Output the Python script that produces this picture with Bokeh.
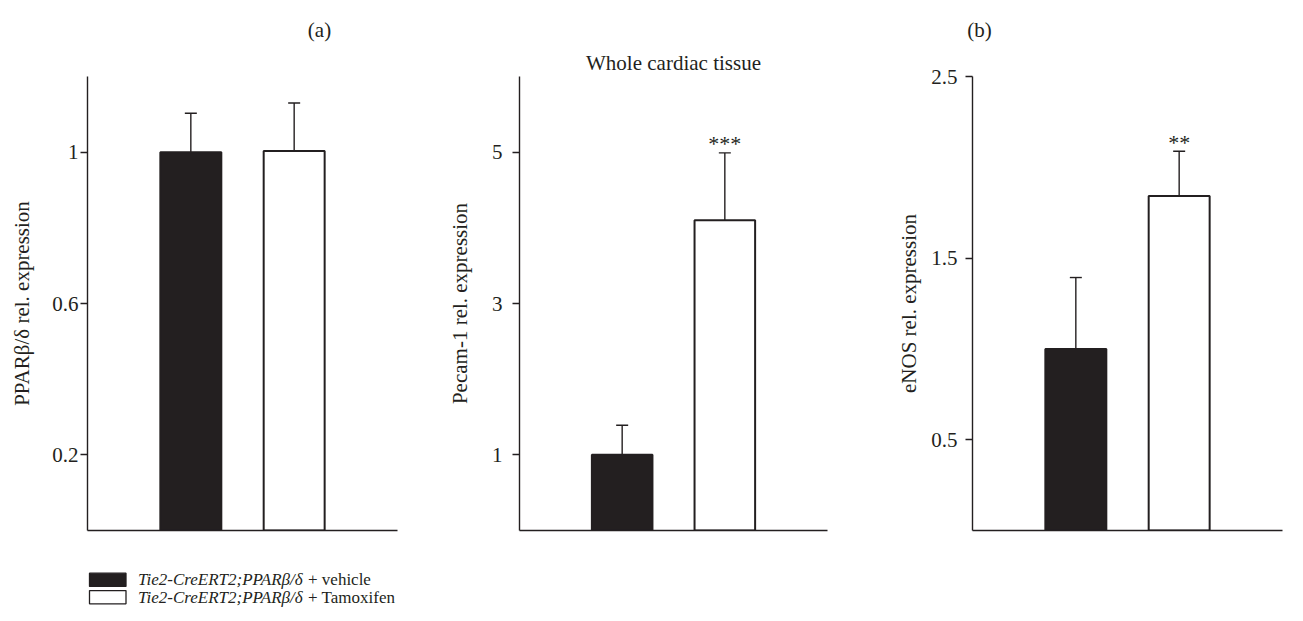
from bokeh.plotting import figure
from bokeh.layouts import column, row
from bokeh.models import ColumnDataSource, Range1d, FixedTicker, Whisker, TeeHead
from bokeh.core.properties import value
from bokeh.embed import file_html
from bokeh.resources import INLINE

# ---------------- data ----------------
groups = ["vehicle", "Tamoxifen"]
group_x = [1, 2]
bar_colors = ["#231f20", "#ffffff"]

ppar_mean = [1.0, 1.003]
ppar_err = [0.103, 0.127]

pecam_mean = [1.0, 4.10]
pecam_err = [0.39, 0.89]

enos_mean = [1.0, 1.842]
enos_err = [0.393, 0.246]

ppar_ticks = [0.2, 0.6, 1]
ppar_tick_labels = ["0.2", "0.6", "1"]
pecam_ticks = [1, 3, 5]
pecam_tick_labels = ["1", "3", "5"]
enos_ticks = [0.5, 1.5, 2.5]
enos_tick_labels = ["0.5", "1.5", "2.5"]

signif = ["", "***", "**"]  # per panel, on second bar

panel_letters = ["(a)", "(b)"]
panel2_title = "Whole cardiac tissue"

legend_italic = ["Tie2-CreERT2;PPARβ/δ", "Tie2-CreERT2;PPARβ/δ"]
legend_plain = [" + vehicle", " + Tamoxifen"]

FONT = "Liberation Serif"
INK = "#231f20"
TOTAL_W = 1294


def panel(width, left, right, ymax, means, errs, ticks, tick_labels, ylabel,
          tick_standoff, label_standoff, stars, title=None):
    p = figure(width=width, height=510, output_backend="svg", toolbar_location=None,
               x_range=Range1d(0, 3), y_range=Range1d(0, ymax),
               min_border_left=left, min_border_right=right,
               min_border_top=30, min_border_bottom=26,
               title=title, title_location="above" if title else None)
    if title:
        p.title.align = "center"
        p.title.offset = -8
        p.title.standoff = 4
        p.title.text_font = FONT
        p.title.text_font_size = "21px"
        p.title.text_font_style = "normal"
        p.title.text_color = INK
    p.outline_line_color = None
    p.xgrid.visible = False
    p.ygrid.visible = False
    p.background_fill_color = None
    p.border_fill_color = "white"

    src = ColumnDataSource(dict(x=group_x, top=means, color=bar_colors,
                                lower=means, upper=[m + e for m, e in zip(means, errs)],
                                stars=["", stars]))
    p.vbar(x="x", top="top", width=0.59, bottom=0, source=src,
           fill_color="color", line_color=INK, line_width=2)
    w = Whisker(base="x", lower="lower", upper="upper", source=src, dimension="height",
                line_color=INK, line_width=1.4,
                upper_head=TeeHead(size=12, line_color=INK, line_width=1.4),
                lower_head=None)
    p.add_layout(w)
    p.text(x="x", y="upper", text="stars", source=src, text_align="center",
           text_baseline="alphabetic", y_offset=-9, text_font=value(FONT),
           text_font_size="22px", text_color=INK)

    yax = p.yaxis[0]
    yax.ticker = FixedTicker(ticks=ticks)
    yax.major_label_overrides = {t: l for t, l in zip(ticks, tick_labels)}
    yax.minor_tick_line_color = None
    yax.major_tick_in = 0
    yax.major_tick_out = 7
    yax.major_tick_line_color = INK
    yax.major_tick_line_width = 1.4
    yax.axis_line_color = INK
    yax.axis_line_width = 1.4
    yax.major_label_text_font = FONT
    yax.major_label_text_font_size = "21px"
    yax.major_label_text_color = INK
    yax.major_label_standoff = tick_standoff
    yax.axis_label = ylabel
    yax.axis_label_text_font = FONT
    yax.axis_label_text_font_size = "21px"
    yax.axis_label_text_font_style = "normal"
    yax.axis_label_text_color = INK
    yax.axis_label_standoff = label_standoff

    xax = p.xaxis[0]
    xax.ticker = FixedTicker(ticks=[])
    xax.minor_tick_line_color = None
    xax.major_tick_line_color = None
    xax.major_label_text_font_size = "0px"
    xax.axis_line_color = INK
    xax.axis_line_width = 1.4
    return p


p1 = panel(438, 87, 41, 1.2, ppar_mean, ppar_err, ppar_ticks, ppar_tick_labels,
           "PPARβ/δ rel. expression", 2, 15, signif[0])
p2 = panel(425, 81, 36, 6, pecam_mean, pecam_err, pecam_ticks, pecam_tick_labels,
           "Pecam-1 rel. expression", 10, 17, signif[1], title=panel2_title)
p3 = panel(431, 109, 12, 2.5, enos_mean, enos_err, enos_ticks, enos_tick_labels,
           "eNOS rel. expression", 8, 7, signif[2])


def strip(height):
    s = figure(width=TOTAL_W, height=height, output_backend="svg", toolbar_location=None,
               x_range=Range1d(0, TOTAL_W), y_range=Range1d(height, 0), min_border=0,
               title_location=None)
    s.axis.visible = False
    s.grid.visible = False
    s.outline_line_color = None
    return s


# ---------------- title strip ----------------
top = strip(46)
tsrc = ColumnDataSource(dict(x=[319, 979], y=[29, 29], t=panel_letters))
top.text(x="x", y="y", text="t", source=tsrc, text_align="center",
         text_baseline="alphabetic", text_font=value(FONT), text_font_size="21px",
         text_color=INK)

# ---------------- legend strip ----------------
leg = strip(57)
row_y = [23.3, 40.7]
lsrc = ColumnDataSource(dict(left=[89, 89], right=[125.5, 125.5],
                             top=[y - 6.6 for y in row_y], bottom=[y + 6.6 for y in row_y],
                             color=bar_colors, y=row_y,
                             tx=[137.5, 137.5], tx2=[307.5, 307.5],
                             it=legend_italic, pl=legend_plain))
leg.quad(left="left", right="right", top="top", bottom="bottom", source=lsrc,
         fill_color="color", line_color=INK, line_width=1.3)
leg.text(x="tx", y="y", text="it", source=lsrc, text_font=value(FONT),
         text_font_style="italic", text_font_size="17px", text_baseline="middle",
         text_color=INK)
leg.text(x="tx2", y="y", text="pl", source=lsrc, text_font=value(FONT),
         text_font_size="17px", text_baseline="middle", text_color=INK)

layout = column(top, row(p1, p2, p3), leg)
open("out.html", "w").write(file_html(layout, INLINE))
